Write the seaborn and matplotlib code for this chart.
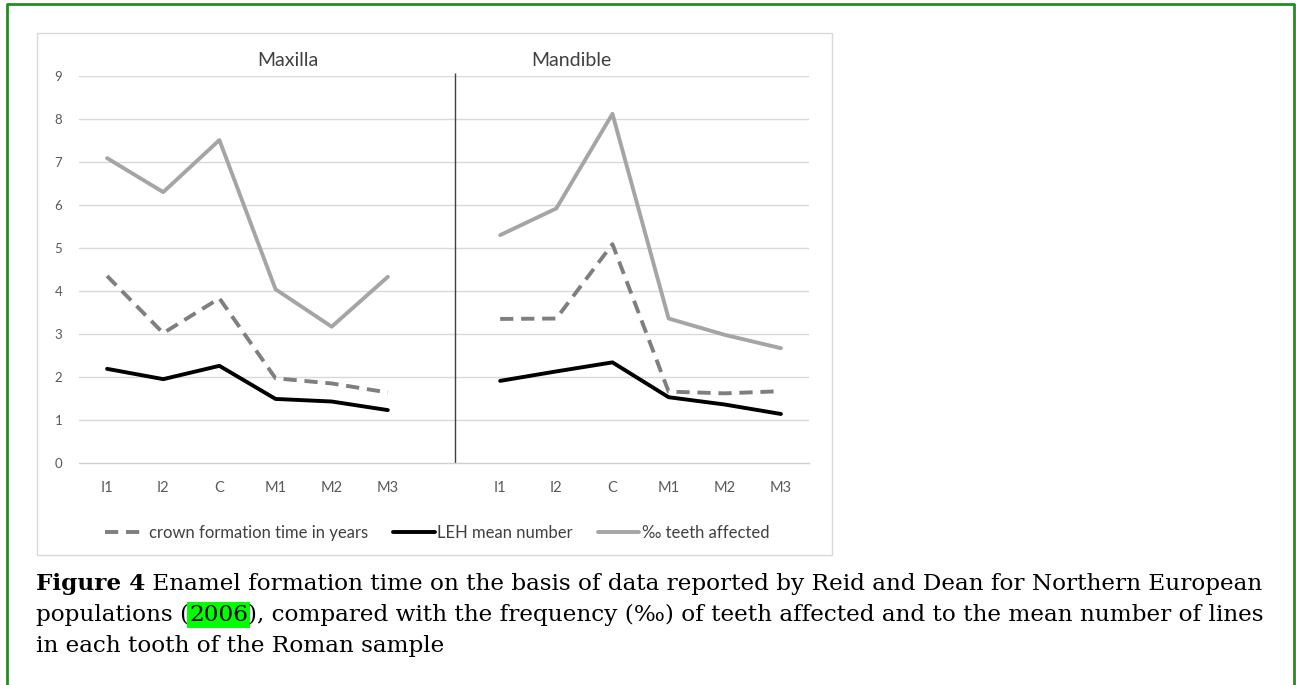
import matplotlib
matplotlib.use('Agg')
import numpy as np
import pandas as pd
import seaborn as sns
import matplotlib.pyplot as plt
from matplotlib.lines import Line2D

# data
teeth = ['I1', 'I2', 'C', 'M1', 'M2', 'M3']
jaws = ['Maxilla', 'Mandible']
series_names = ['crown formation time in years', 'LEH mean number', '‰ teeth affected']

crown_maxilla = [4.35, 3.02, 3.83, 1.97, 1.85, 1.64]
crown_mandible = [3.35, 3.36, 5.09, 1.66, 1.62, 1.67]
leh_maxilla = [2.19, 1.95, 2.26, 1.49, 1.43, 1.23]
leh_mandible = [1.91, 2.13, 2.34, 1.53, 1.36, 1.14]
affected_maxilla = [7.09, 6.30, 7.51, 4.04, 3.17, 4.33]
affected_mandible = [5.30, 5.92, 8.12, 3.36, 2.98, 2.67]

yticks = list(range(0, 10))

caption_lines = [
    [('Figure 4', 'bold', None), (' Enamel formation time on the basis of data reported by Reid and Dean for Northern European', 'normal', None)],
    [('populations (', 'normal', None), ('2006', 'normal', '#00FF00'),
     ('), compared with the frequency (‰) of teeth affected and to the mean number of lines', 'normal', None)],
    [('in each tooth of the Roman sample', 'normal', None)],
]

# long table, one blank category between the two jaws
categories = teeth + [''] + teeth
values = {
    ('Maxilla', series_names[0]): crown_maxilla,
    ('Mandible', series_names[0]): crown_mandible,
    ('Maxilla', series_names[1]): leh_maxilla,
    ('Mandible', series_names[1]): leh_mandible,
    ('Maxilla', series_names[2]): affected_maxilla,
    ('Mandible', series_names[2]): affected_mandible,
}
rows = []
for (jaw, name), vals in values.items():
    offset = 0 if jaw == 'Maxilla' else len(teeth) + 1
    for i, v in enumerate(vals):
        rows.append({'jaw': jaw, 'series': name, 'tooth': teeth[i], 'pos': offset + i, 'value': v})
df = pd.DataFrame(rows)

sns.set_style('white')
plt.rcParams['font.family'] = ['Lato', 'DejaVu Sans']

W, H = 1296, 685
fig = plt.figure(figsize=(W / 100, H / 100), dpi=100)

# axes box in pixels: x 79..809, y 76..463
ax = fig.add_axes([79 / W, 1 - 463 / H, 730 / W, (463 - 76) / H])

palette = {series_names[0]: '#7F7F7F', series_names[1]: '#000000', series_names[2]: '#A5A5A5'}
dashes = {series_names[0]: (3.4, 2.0), series_names[1]: '', series_names[2]: ''}
lw = 2.8

sns.lineplot(data=df, x='pos', y='value', hue='series', style='series', units='jaw',
             estimator=None, palette=palette, dashes=dashes, linewidth=lw,
             legend=False, ax=ax, hue_order=series_names[::-1], style_order=series_names)

ax.set_xlim(-0.5, len(categories) - 0.5)
ax.set_ylim(0, 9)
ax.set_xticks(range(len(categories)))
ax.set_xticklabels(categories)
ax.set_xticks(np.arange(-0.5, len(categories), 1), minor=True)
ax.set_yticks(yticks)
ax.set_xlabel('')
ax.set_ylabel('')
for y in yticks[1:]:
    ax.axhline(y, color='#D9D9D9', lw=1, zorder=0)
for s in ['top', 'right', 'left']:
    ax.spines[s].set_visible(False)
ax.spines['bottom'].set_color('#D0D0D0')
ax.spines['bottom'].set_linewidth(1)
ax.tick_params(axis='x', which='major', length=0, pad=13, labelsize=10.5, labelcolor='#595959')
ax.tick_params(axis='x', which='minor', length=4, width=1, color='#D0D0D0')
ax.tick_params(axis='y', length=0, pad=12, labelsize=9.5, labelcolor='#595959')

# divider between the jaws
ax.vlines(len(teeth) + 0.2, 0, 9.07, color='#404040', lw=1, clip_on=False)

ax.text(3.22, 9.37, 'Maxilla', ha='center', va='center', fontsize=14, color='#404040')
ax.text(8.26, 9.37, 'Mandible', ha='center', va='center', fontsize=14, color='#404040')

handles = [Line2D([], [], color=palette[n], lw=lw) for n in series_names]
handles[0].set_dashes(dashes[series_names[0]])
fig.legend(handles, series_names, loc='center', bbox_to_anchor=(437 / W, 1 - 533 / H), ncol=3,
           frameon=False, fontsize=12, handlelength=2.5, handletextpad=0.15, columnspacing=1.5,
           labelcolor='#404040')

# chart box and page border
fig.add_artist(plt.Rectangle((37 / W, 1 - 555 / H), (832 - 37) / W, (555 - 33) / H,
                             transform=fig.transFigure, fill=False, edgecolor='#D9D9D9', lw=1))
green = '#1F8F1F'
fig.add_artist(Line2D([7 / W, 7 / W, 1294 / W, 1294 / W], [0, 1 - 4 / H, 1 - 4 / H, 0],
                      transform=fig.transFigure, color=green, lw=2))

# caption, fitted to the line width in the page
serif = ['DejaVu Serif']
renderer = fig.canvas.get_renderer()

def place_line(segments, x0, ybase, size):
    x = x0
    for txt, weight, hl in segments:
        kw = {}
        if hl:
            kw['bbox'] = dict(facecolor=hl, edgecolor='none', pad=1.5)
        t = fig.text(x / W, 1 - ybase / H, txt, va='baseline', ha='left', fontsize=size,
                     fontweight=weight, family=serif, color='#000000', **kw)
        x += t.get_window_extent(renderer).width
    return x

probe = [fig.text(0, 0, txt, fontsize=10, fontweight=w, family=serif) for txt, w, _ in caption_lines[0]]
probe_w = sum(p.get_window_extent(renderer).width for p in probe)
for p in probe:
    p.remove()
size = 10 * (1267 - 36) / probe_w

for k, line in enumerate(caption_lines):
    place_line(line, 36, 590 + 31 * k, size)

fig.savefig('out.png', dpi=100)
